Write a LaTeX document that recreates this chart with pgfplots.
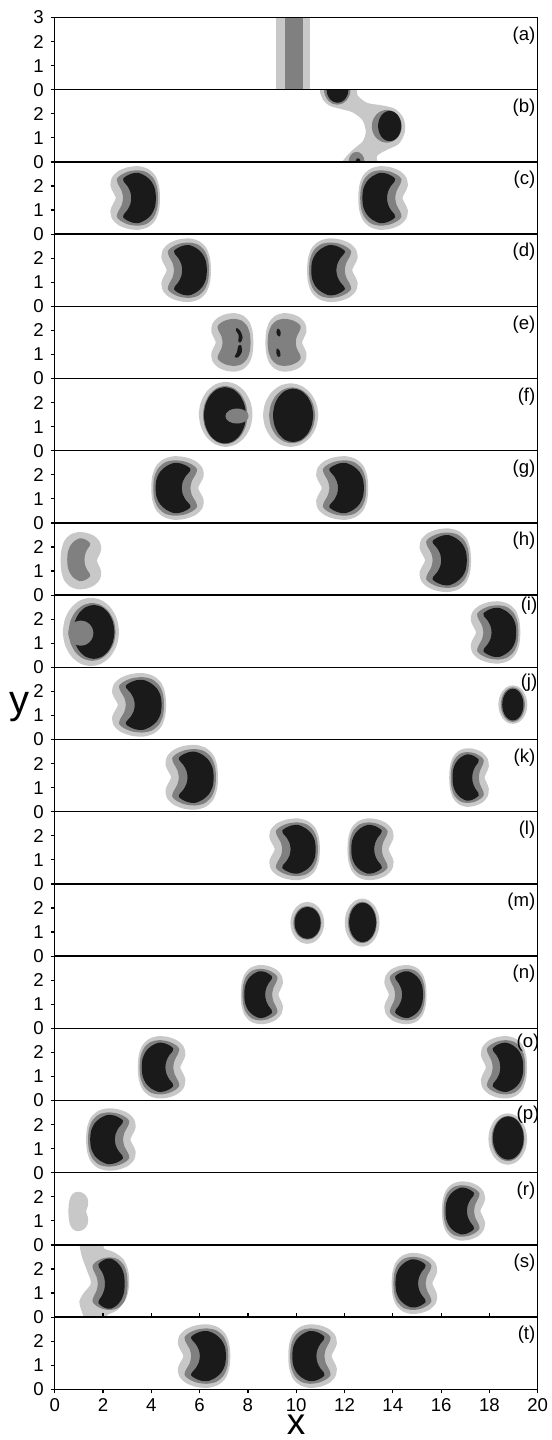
\documentclass[border=0pt]{standalone}
\usepackage{fontspec}
\setmainfont{Liberation Sans}
\usepackage{pgfplots}
\pgfplotsset{compat=1.18}
\usepackage{pgfplotstable}
\usepgfplotslibrary{groupplots}
\definecolor{lg}{RGB}{200,200,200}
\definecolor{dg}{RGB}{128,128,128}
\definecolor{bk}{RGB}{26,26,26}
\newcommand{\tickfont}{\fontsize{9.3}{10}\selectfont}
\newcommand{\biglab}{\fontsize{20}{22}\selectfont}
\newcommand{\xlabfont}{\fontsize{18.5}{20}\selectfont}

% kidney template (opening to the left), outer contour
\pgfplotstableread{
u v
1.03 0
0.99 0.5
0.84 0.92
0.55 1.2
0.15 1.32
-0.3 1.28
-0.7 1.12
-0.96 0.85
-1.02 0.5
-0.9 0.22
-0.8 0
-0.9 -0.22
-1.02 -0.5
-0.96 -0.85
-0.7 -1.12
-0.3 -1.28
0.15 -1.32
0.55 -1.2
0.84 -0.92
0.99 -0.5
}\kout
% middle contour
\pgfplotstableread{
u v
0.95 0
0.91 0.45
0.76 0.82
0.48 1.07
0.12 1.15
-0.28 1.1
-0.6 0.95
-0.76 0.78
-0.7 0.56
-0.56 0.3
-0.5 0
-0.56 -0.3
-0.7 -0.56
-0.76 -0.78
-0.6 -0.95
-0.28 -1.1
0.12 -1.15
0.48 -1.07
0.76 -0.82
0.91 -0.45
}\kmid
% inner contour
\pgfplotstableread{
u v
0.86 0
0.82 0.38
0.68 0.68
0.45 0.9
0.15 1.04
-0.12 1.02
-0.35 0.92
-0.5 0.8
-0.47 0.68
-0.32 0.5
-0.2 0.26
-0.16 0
-0.2 -0.26
-0.32 -0.5
-0.47 -0.68
-0.5 -0.8
-0.35 -0.92
-0.12 -1.02
0.15 -1.04
0.45 -0.9
0.68 -0.68
0.82 -0.38
}\kin
% oval template
\pgfplotstableread{
u v
1 0
0.924 0.383
0.707 0.707
0.383 0.924
0 1
-0.383 0.924
-0.707 0.707
-0.924 0.383
-1 0
-0.924 -0.383
-0.707 -0.707
-0.383 -0.924
0 -1
0.383 -0.924
0.707 -0.707
0.924 -0.383
}\kcirc

% #1 table, #2 colour, #3 cx, #4 sx, #5 cy, #6 sy
\newcommand{\blobshape}[6]{\addplot[fill=#2,draw=none,smooth cycle] table[x expr={#3+(#4)*\thisrow{u}}, y expr={#5+(#6)*\thisrow{v}}] {#1};}
% cx, sx (negative = opening right), cy, sy
\newcommand{\kidney}[4]{\blobshape{\kout}{lg}{#1}{#2}{#3}{#4}\blobshape{\kmid}{dg}{#1}{#2}{#3}{#4}\blobshape{\kin}{bk}{#1}{#2}{#3}{#4}}
% colour, cx, cy, rx, ry
\newcommand{\ovl}[5]{\blobshape{\kcirc}{#1}{#2}{#4}{#3}{#5}}
\newcommand{\plab}[3]{\node[anchor=north east, inner sep=0pt, font=\tickfont, xshift=#2, yshift=#3] at (rel axis cs:1,1) {#1};}

\begin{document}
\begin{tikzpicture}
\begin{groupplot}[
  group style={group size=1 by 19, vertical sep=0pt},
  width=241.5pt, height=36.1pt, scale only axis,
  xmin=0, xmax=20, ymin=0, ymax=3,
  xtick=\empty, ytick={0,1,2}, ytick pos=left,
  tick align=outside, major tick length=2pt,
  axis line style={line width=0.75pt},
  tick style={line width=0.6pt, black},
  ticklabel style={font=\tickfont},
  xticklabel style={inner sep=1pt, yshift=-1.5pt},
  /pgf/number format/assume math mode=true,
  axis on top, clip=true,
]
% (a)
\nextgroupplot[ytick={0,1,2,3}]
\addplot[fill=lg,draw=none] coordinates {(9.16,-0.1) (10.57,-0.1) (10.57,3.1) (9.16,3.1)} -- cycle;
\addplot[fill=dg,draw=none] coordinates {(9.54,-0.1) (10.28,-0.1) (10.28,3.1) (9.54,3.1)} -- cycle;
\coordinate (tl) at (rel axis cs:0,1);
\plab{(a)}{-1pt}{-4.5pt}
% (b)
\nextgroupplot
\addplot[fill=lg,draw=none,smooth cycle] coordinates {(11.06,3.1) (11.1,2.6) (11.4,2.33) (11.85,2.2) (12.35,2.05) (12.75,1.72) (12.88,1.25) (12.75,0.85) (12.4,0.55) (12.1,0.25) (11.95,-0.1) (13.25,-0.1) (13.35,0.25) (13.75,0.5) (14.25,0.75) (14.5,1.25) (14.45,1.8) (14.1,2.2) (13.55,2.35) (12.95,2.45) (12.55,2.75) (12.4,3.1)};
\ovl{dg}{13.75}{1.48}{0.62}{0.68}
\ovl{bk}{13.87}{1.49}{0.48}{0.63}
\ovl{dg}{11.7}{3.0}{0.55}{0.62}
\ovl{bk}{11.71}{3.0}{0.45}{0.54}
\ovl{dg}{12.5}{0.0}{0.33}{0.42}
\ovl{bk}{12.56}{0.0}{0.1}{0.15}
\plab{(b)}{-1pt}{-4.5pt}
% (c)
\nextgroupplot
\kidney{3.33}{1.0}{1.5}{1.0}
\kidney{13.6}{-1.0}{1.5}{1.0}
\plab{(c)}{-1pt}{-4.5pt}
% (d)
\nextgroupplot
\kidney{5.44}{1.0}{1.5}{1.0}
\kidney{11.5}{-1.02}{1.5}{1.0}
\plab{(d)}{-1pt}{-4.5pt}
% (e)
\nextgroupplot
\blobshape{\kout}{lg}{7.35}{0.85}{1.5}{0.92}
\blobshape{\kmid}{dg}{7.35}{0.8}{1.5}{0.85}
\addplot[fill=bk,draw=none,smooth cycle] coordinates {(7.55,2.1) (7.7,1.95) (7.78,1.7) (7.7,1.5) (7.6,1.55) (7.62,1.8) (7.5,2.0)};
\addplot[fill=bk,draw=none,smooth cycle] coordinates {(7.72,1.38) (7.75,1.1) (7.6,0.88) (7.45,0.9) (7.55,1.1) (7.6,1.35)};
\blobshape{\kout}{lg}{9.58}{-0.83}{1.5}{0.92}
\blobshape{\kmid}{dg}{9.58}{-0.8}{1.5}{0.85}
\addplot[fill=bk,draw=none,smooth cycle] coordinates {(9.25,2.08) (9.35,1.95) (9.33,1.75) (9.22,1.8) (9.18,1.95)};
\addplot[fill=bk,draw=none,smooth cycle] coordinates {(9.2,1.25) (9.32,1.15) (9.35,0.95) (9.25,0.9) (9.18,1.05)};
\plab{(e)}{-1pt}{-4.5pt}
% (f)
\nextgroupplot
\ovl{lg}{7.08}{1.51}{1.11}{1.35}
\ovl{dg}{7.06}{1.48}{0.92}{1.21}
\ovl{bk}{7.05}{1.47}{0.87}{1.17}
\ovl{dg}{7.55}{1.44}{0.48}{0.31}
\ovl{lg}{9.77}{1.48}{1.14}{1.32}
\ovl{dg}{9.83}{1.47}{0.95}{1.16}
\ovl{bk}{9.87}{1.47}{0.83}{1.11}
\plab{(f)}{-1pt}{-4.5pt}
% (g)
\nextgroupplot
\kidney{5.09}{-1.06}{1.45}{1.0}
\kidney{11.9}{1.05}{1.45}{1.0}
\plab{(g)}{-1pt}{-4.5pt}
% (h)
\nextgroupplot
\blobshape{\kout}{lg}{1.09}{-0.82}{1.43}{0.9}
\blobshape{\kin}{dg}{1.12}{-0.7}{1.47}{0.85}
\kidney{16.17}{1.04}{1.45}{1.0}
\plab{(h)}{-1pt}{-4.5pt}
% (i)
\nextgroupplot
\ovl{lg}{1.5}{1.47}{1.16}{1.42}
\ovl{dg}{1.55}{1.47}{0.97}{1.2}
\ovl{bk}{1.62}{1.47}{0.85}{1.12}
\ovl{dg}{1.08}{1.42}{0.52}{0.52}
\kidney{18.25}{1.0}{1.45}{0.98}
\plab{(i)}{0pt}{-1pt}
% (j)
\nextgroupplot
\kidney{3.49}{1.09}{1.44}{1.0}
\ovl{lg}{18.97}{1.45}{0.6}{0.8}
\ovl{dg}{18.97}{1.45}{0.5}{0.72}
\ovl{bk}{18.97}{1.45}{0.44}{0.66}
\coordinate (ylab) at (rel axis cs:0,0.446);
\plab{(j)}{0pt}{-3pt}
% (k)
\nextgroupplot
\kidney{5.67}{1.06}{1.43}{1.02}
\kidney{17.16}{-0.8}{1.42}{0.92}
\plab{(k)}{-1pt}{-4.5pt}
% (l)
\nextgroupplot
\kidney{9.93}{1.02}{1.44}{0.97}
\kidney{13.08}{-0.93}{1.44}{0.97}
\plab{(l)}{-1pt}{-4.5pt}
% (m)
\nextgroupplot
\ovl{lg}{10.46}{1.38}{0.7}{0.87}
\ovl{dg}{10.46}{1.38}{0.58}{0.7}
\ovl{bk}{10.47}{1.38}{0.54}{0.66}
\ovl{lg}{12.73}{1.39}{0.72}{1.0}
\ovl{dg}{12.74}{1.4}{0.6}{0.86}
\ovl{bk}{12.75}{1.4}{0.56}{0.82}
\plab{(m)}{-1pt}{-4.5pt}
% (n)
\nextgroupplot
\kidney{8.58}{-0.85}{1.4}{0.93}
\kidney{14.52}{0.85}{1.4}{0.93}
\plab{(n)}{-1pt}{-4.5pt}
% (o)
\nextgroupplot
\kidney{4.43}{-0.96}{1.38}{0.98}
\kidney{18.6}{0.93}{1.38}{0.98}
\plab{(o)}{1pt}{-2.5pt}
% (p)
\nextgroupplot
\kidney{2.33}{-1.0}{1.38}{0.98}
\ovl{lg}{18.76}{1.4}{0.8}{1.07}
\ovl{dg}{18.77}{1.42}{0.68}{0.94}
\ovl{bk}{18.78}{1.44}{0.64}{0.9}
\plab{(p)}{1pt}{-2.5pt}
% (r)
\nextgroupplot
\blobshape{\kout}{lg}{0.98}{-0.4}{1.39}{0.62}
\kidney{16.93}{-0.87}{1.41}{0.93}
\plab{(r)}{-1pt}{-4.5pt}
% (s)
\nextgroupplot
\addplot[fill=lg,draw=none,smooth cycle] coordinates {(1.1,3.1) (1.95,3.1) (2.05,2.85) (2.45,2.7) (2.85,2.4) (3.05,1.9) (3.08,1.3) (2.95,0.75) (2.6,0.3) (2.2,0.1) (1.95,-0.1) (1.3,-0.1) (1.1,0.3) (1.02,0.65) (1.2,1.0) (1.5,1.4) (1.35,1.9) (1.2,2.3) (1.08,2.7)};
\blobshape{\kmid}{dg}{2.21}{0.85}{1.39}{0.95}
\blobshape{\kin}{bk}{2.21}{0.8}{1.39}{1.0}
\kidney{14.9}{-0.92}{1.4}{0.96}
\plab{(s)}{-1pt}{-4.5pt}
% (t)
\nextgroupplot[xtick={0,2,...,20}]
\kidney{6.18}{1.06}{1.38}{1.0}
\kidney{10.68}{-0.98}{1.38}{1.0}
\plab{(t)}{-1pt}{-4.5pt}
\coordinate (xlab) at (rel axis cs:0.5,0);
\coordinate (br) at (rel axis cs:1,0);
\end{groupplot}
\node[font=\biglab, inner sep=0pt, anchor=center, xshift=-17.35pt] at (ylab) {y};
\node[font=\xlabfont, inner sep=0pt, anchor=base, yshift=-22.6pt] at (xlab) {x};
\path ([shift={(-27.35pt,8.75pt)}]tl) rectangle ([shift={(6.65pt,-25.35pt)}]br);
\end{tikzpicture}
\end{document}
